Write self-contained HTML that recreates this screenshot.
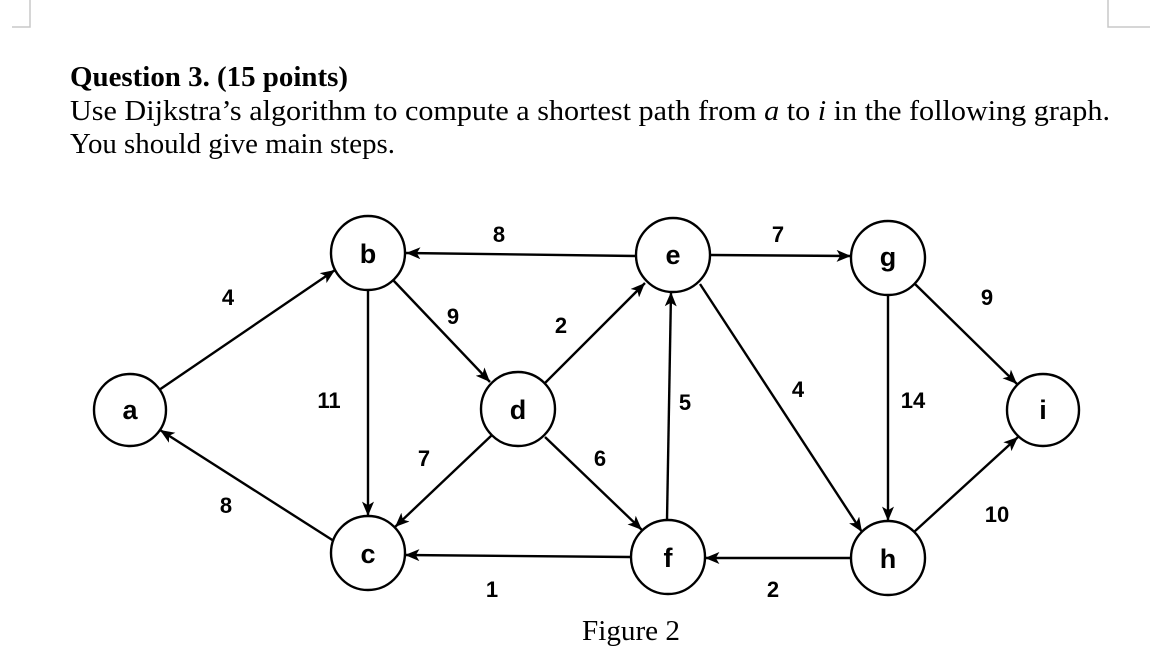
<!DOCTYPE html>
<html><head><meta charset="utf-8"><style>
html,body{margin:0;padding:0;background:#fff;}
svg{display:block;}
.t{font-family:"Liberation Serif",serif;fill:#000;}
.l{font-family:"Liberation Sans",sans-serif;font-weight:bold;font-size:22px;fill:#000;text-anchor:middle;}
.n{font-family:"Liberation Sans",sans-serif;font-weight:bold;font-size:27px;fill:#000;text-anchor:middle;}
</style></head><body>
<svg width="1172" height="668" viewBox="0 0 1172 668" xmlns="http://www.w3.org/2000/svg">
<defs><marker id="ar" viewBox="0 0 12 10" refX="12" refY="5" markerWidth="15" markerHeight="12" markerUnits="userSpaceOnUse" orient="auto"><path d="M0,0 L12,5 L0,10 L3,5 z" fill="#000"/></marker></defs>
<g stroke="#c8c8c8" stroke-width="1.5" fill="none">
<path d="M30,0 V27 H12"/><path d="M1108,0 V27 H1150"/>
</g>
<text class="t" x="70" y="86" font-size="28" font-weight="bold" textLength="278" lengthAdjust="spacingAndGlyphs">Question 3. (15 points)</text>
<text class="t" x="70" y="120" font-size="29" textLength="1040" lengthAdjust="spacingAndGlyphs">Use Dijkstra’s algorithm to compute a shortest path from <tspan font-style="italic">a</tspan> to <tspan font-style="italic">i</tspan> in the following graph.</text>
<text class="t" x="70" y="153" font-size="29" textLength="325" lengthAdjust="spacingAndGlyphs">You should give main steps.</text>
<g stroke="#000" stroke-width="2.4" fill="none" marker-end="url(#ar)">
<line x1="159" y1="390" x2="335" y2="270"/>
<line x1="337" y1="543" x2="160" y2="430"/>
<line x1="368" y1="290" x2="368" y2="516"/>
<line x1="393" y1="280" x2="490" y2="382"/>
<line x1="636" y1="256" x2="406" y2="253"/>
<line x1="545" y1="383" x2="645" y2="283"/>
<line x1="492" y1="435" x2="395" y2="527"/>
<line x1="545" y1="437" x2="642" y2="530"/>
<line x1="667" y1="520" x2="671" y2="292"/>
<line x1="630" y1="557" x2="405" y2="555"/>
<line x1="700" y1="284" x2="862" y2="532"/>
<line x1="710" y1="255" x2="851" y2="256"/>
<line x1="888" y1="295" x2="888" y2="521"/>
<line x1="915" y1="284" x2="1017" y2="384"/>
<line x1="851" y1="558" x2="705" y2="558"/>
<line x1="914" y1="532" x2="1018" y2="437"/>
</g>
<g stroke="#000" stroke-width="2.4" fill="#fff">
<circle cx="130" cy="410" r="36"/><circle cx="368" cy="253" r="37"/><circle cx="673" cy="255" r="37"/>
<circle cx="888" cy="258" r="37"/><circle cx="1043" cy="410" r="36"/><circle cx="518" cy="409" r="37"/>
<circle cx="368" cy="553" r="37"/><circle cx="668" cy="557" r="37"/><circle cx="888" cy="558" r="37"/>
</g>
<g class="n">
<text x="130" y="419">a</text><text x="368" y="263">b</text><text x="673" y="264">e</text>
<text x="888" y="266">g</text><text x="1043" y="419">i</text><text x="518" y="419">d</text>
<text x="368" y="563">c</text><text x="668" y="567">f</text><text x="888" y="568">h</text>
</g>
<g class="l">
<text x="228" y="305">4</text><text x="226" y="513">8</text><text x="329" y="408">11</text>
<text x="499" y="242">8</text><text x="453" y="324">9</text><text x="561" y="333">2</text>
<text x="424" y="466">7</text><text x="600" y="466">6</text><text x="685" y="410">5</text>
<text x="492" y="597">1</text><text x="778" y="242">7</text><text x="798" y="397">4</text>
<text x="913" y="408">14</text><text x="987" y="305">9</text><text x="997" y="522">10</text>
<text x="773" y="597">2</text>
</g>
<text class="t" x="582" y="640" font-size="28" textLength="98" lengthAdjust="spacingAndGlyphs">Figure 2</text>
</svg>
</body></html>
